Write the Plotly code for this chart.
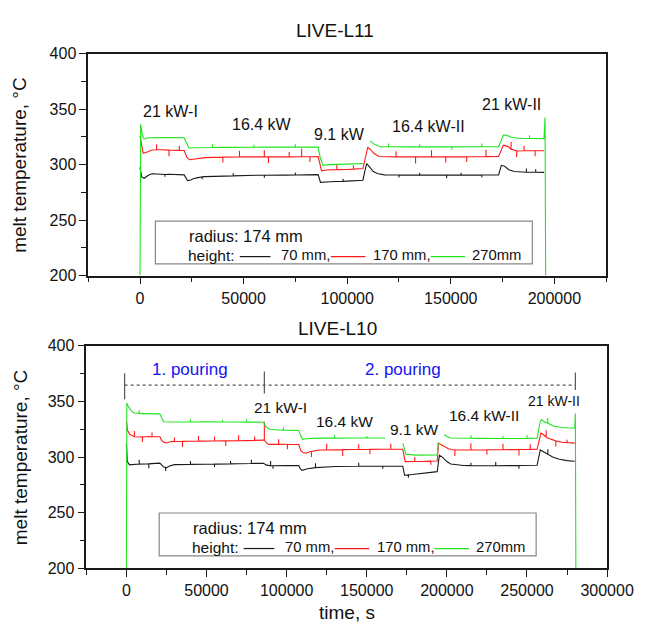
import plotly.graph_objects as go

# ---------------- data ----------------
# LIVE-L11 : (time s, temperature C)
l11_black = [(0, 297.5), (800, 289), (2000, 287.7), (4000, 290.5), (5800, 291.8), (9000, 291.5), (14000, 291.3),
             (21300, 290.8), (22500, 287), (23000, 285.7), (24500, 286.2), (26000, 287.5), (28000, 288.3),
             (31300, 289.2), (40000, 289.6), (56000, 290.4), (70000, 290.6), (86000, 291.0), (86800, 286),
             (87100, 284), (92000, 284.6), (100000, 285.2), (107600, 286), (108500, 294), (109400, 300.9),
             (111000, 297.5), (112500, 294), (114500, 292.1), (118000, 290.8), (140000, 290.6), (160000, 290.6),
             (173100, 290.8), (174400, 299.4), (176000, 298.5), (178000, 295.5), (180700, 293.9), (186000, 293.2),
             (195000, 293)]
l11_black_spikes = [(12000, 291.2, 289.2), (30000, 289, 286.8), (45000, 289.9, 292.3), (60000, 290.5, 288.3),
                    (75000, 290.7, 292.6), (98000, 285, 287.2), (125000, 290.7, 288.4), (135000, 290.6, 292.6),
                    (148000, 290.6, 287.8), (155000, 290.6, 292.8), (165000, 290.7, 288.4), (186500, 293.2, 296.5),
                    (191000, 293.1, 295.9)]

l11_red = [(0, 326), (700, 318), (1500, 310.3), (3500, 311.5), (5800, 313.2), (10000, 313.5), (15000, 313),
           (21300, 312.8), (22500, 307), (23900, 304.4), (27000, 305.3), (31300, 306.3), (50000, 307),
           (70000, 307), (86000, 307.2), (87000, 299), (87600, 294.4), (90000, 295.2), (100000, 295.7),
           (107600, 296.5), (108800, 308), (109900, 315.3), (111000, 314.2), (113000, 310), (115300, 307.3),
           (130000, 307), (150000, 307), (173100, 307.5), (174400, 314), (175400, 317.6), (177500, 316.5),
           (179500, 313.8), (181500, 312.3), (188000, 312.6), (195000, 312.5)]
l11_red_spikes = [(8000, 313.4, 318.5), (14000, 313.1, 307.5), (19000, 312.9, 317), (40000, 306.8, 302),
                  (48000, 307, 312.5), (60000, 307, 313), (62000, 307, 301.5), (72000, 307, 311.5),
                  (78000, 307.1, 314.5), (82000, 307.1, 302.5), (95000, 295.5, 300.5), (103000, 296, 299.5),
                  (123600, 307, 312), (133000, 307, 301), (140700, 307, 313), (147600, 307, 302),
                  (157700, 307.1, 302.5), (167000, 307.2, 313.5), (179100, 313.9, 320.5), (181800, 312.3, 307),
                  (185400, 312.5, 317), (190700, 312.6, 307.5)]

l11_green = [(0, 200), (300, 336.5), (1200, 326), (2000, 323), (4000, 324.3), (8000, 324.6), (14000, 324.5),
             (21300, 324.3), (22500, 319), (23600, 315), (26000, 315.3), (40000, 315.6), (60000, 315.8),
             (86000, 315.8), (87000, 306), (88300, 299.4), (91000, 300.0), (100000, 300.5), (107600, 301),
             (109000, None), (111100, 321.3), (113000, 318.5), (116000, 316.2), (130000, 316), (150000, 316),
             (173100, 316.2), (174300, 322), (175400, 326.6), (177000, 326.5), (179000, 325), (182400, 323.8),
             (190000, 323.6), (195000, 323.5), (195500, 342.4), (195800, 200)]
l11_green_spikes = [(35000, 315.5, 318.5), (55000, 315.7, 318), (75000, 315.8, 318.5), (120000, 316.1, 319),
                    (135000, 316, 318.5), (150500, 316, 313.5), (165000, 316.1, 319), (188000, 323.6, 326.5)]

# LIVE-L10
l10_black = [(0, 312), (600, 296), (1900, 293), (5000, 293.6), (12000, 293.8), (18000, 294.3), (20900, 294.6),
             (22000, 293), (23300, 291), (25000, 290.5), (27000, 292), (30000, 293.2), (50000, 293.6),
             (70000, 294), (80000, 294.3), (85700, 294.5), (87000, 293), (88900, 292.2), (100000, 292.3),
             (107600, 292.4), (108500, 289.5), (109600, 288.1), (113000, 289.5), (116600, 290.4), (130600, 291.5),
             (150000, 291.8), (172500, 291.8), (173000, 287), (173600, 283.7), (178500, 284.3), (186000, 285.6),
             (194000, 286.9), (194700, 295), (195400, 301.7), (197500, 299.5), (200000, 296), (202400, 293.8),
             (210400, 292.4), (230000, 292.2), (256300, 292.6), (257300, 300), (258300, 306.4), (260000, 305),
             (262300, 302.9), (266000, 300), (270200, 298), (275000, 296.8), (279800, 296.3)]
l10_black_spikes = [(8000, 293.7, 297.5), (14000, 293.9, 290), (24500, 290.6, 287.5), (40000, 293.4, 296.5),
                    (55000, 293.7, 291), (65000, 293.9, 296.5), (78000, 294.2, 297.5), (90000, 292.2, 296.5),
                    (91500, 292.2, 289.5), (118000, 290.5, 294.5), (145000, 291.7, 295), (160000, 291.8, 289.5),
                    (176000, 284, 281.5), (215000, 292.3, 295), (230500, 292.2, 295.5), (245000, 292.4, 289.5),
                    (263000, 302.5, 307)]

l10_red = [(0, 332), (700, 324), (2000, 320.5), (3900, 318.6), (8000, 318), (14000, 318.4), (20900, 318.2),
           (22000, 315), (23300, 313.4), (25000, 312.7), (28000, 314), (40000, 314.2), (60000, 314.5),
           (75000, 314.8), (85700, 315.2), (87500, 312.5), (88900, 311.4), (100000, 311.5), (107600, 311.3),
           (108800, 306), (110200, 304), (112000, 303.5), (115000, 305), (120600, 306.3), (140000, 306.8),
           (160000, 307), (172500, 307), (173300, 300), (174000, 295.9), (184000, 296), (194000, 296.5),
           (194800, 312.3), (196500, 311), (198400, 309.4), (201000, 307.5), (204400, 306.3), (230000, 306.5),
           (256300, 307), (257500, 316), (258700, 321.6), (260000, 320.5), (263000, 317), (266300, 315.1),
           (272000, 313.3), (279800, 312.5)]
l10_red_spikes = [(5000, 318.3, 323.5), (10000, 318.1, 313.5), (16000, 318.3, 322), (30000, 314, 317.5),
                  (35000, 314.1, 309), (45000, 314.3, 319), (55000, 314.4, 318.5), (62000, 314.5, 310),
                  (70000, 314.7, 319.5), (80000, 315, 318.5), (86100, 315.2, 331.7), (95000, 311.4, 316),
                  (100500, 311.5, 307), (115500, 305, 300), (125000, 306.4, 312), (135000, 306.7, 301),
                  (145000, 306.8, 311.5), (152000, 306.9, 302.5), (165000, 307, 312), (180000, 296, 300),
                  (190000, 296.3, 293), (205000, 306.3, 301), (215000, 306.4, 312.5), (225000, 306.5, 302),
                  (235000, 306.6, 312), (245000, 306.8, 301.5), (252000, 306.9, 311.5), (262000, 318, 324),
                  (268000, 314.5, 309.5), (275000, 313, 315.5)]

l10_green = [(0, 200), (300, 348.5), (1000, 346), (1900, 344.2), (3000, 341.5), (4900, 339.6), (10000, 339),
             (15000, 339.2), (20900, 338.8), (22000, 335), (23300, 331.7), (30000, 331.5), (50000, 331.6),
             (70000, 331.5), (85700, 331.3), (86700, 327.9), (88000, 326), (89700, 325), (95000, 324.3),
             (107600, 323.9), (108800, 319), (110200, 315.7), (112000, 316.5), (120000, 317), (140000, 317.1),
             (161500, 317.1), (167000, None), (172500, 312.3), (173500, 306), (174500, 302.6), (180000, 301.7),
             (194000, 301.9), (194600, 313), (196500, None), (198400, 320.3), (200000, 318.5), (202400, 317.1),
             (220000, 316.8), (240000, 316.7), (256300, 317), (257500, 326), (258300, 331.7), (259000, 333.6),
             (261000, 331.5), (266300, 327.9), (272000, 326.5), (279800, 325.9), (280200, 339), (280500, 200)]
l10_green_spikes = [(8000, 339.1, 342), (40000, 331.5, 334), (60000, 331.5, 333.5), (75000, 331.4, 334),
                    (98000, 324.2, 326.5), (130000, 317, 319.5), (150000, 317.1, 319), (215000, 316.9, 319.5),
                    (235000, 316.7, 319), (250000, 316.8, 319.5), (263000, 330.5, 335)]

series_names = ["70 mm", "170 mm", "270mm"]
series_colors = ["#1a1a1a", "#ff1a1a", "#1fe51f"]

y_ticks = [200, 250, 300, 350, 400]
x_ticks_l11 = [0, 50000, 100000, 150000, 200000]
x_ticks_l10 = [0, 50000, 100000, 150000, 200000, 250000, 300000]

# annotations (text, time, temperature)
labels_l11 = [("21 kW-I", 14600, 347.6), ("16.4 kW", 59000, 336), ("9.1 kW", 96500, 327.2),
              ("16.4 kW-II", 139200, 334.5), ("21 kW-II", 179300, 354.1)]
labels_l10 = [("21 kW-I", 96300, 344.2), ("16.4 kW", 136000, 331.7), ("9.1 kW", 180100, 324.5),
              ("16.4 kW-II", 222900, 337), ("21 kW-II", 267000, 350)]
pouring_labels = [("1. pouring", 39600, 379), ("2. pouring", 172700, 379)]
pouring_line_y = 364.6
pouring_marks = [(-1100, 352, 375.3), (86100, 357, 376.8), (280200, 360.2, 375.9)]

# ---------------- figure ----------------
W, H = 660, 631
def px(v): return v / W
def py(v): return 1 - v / H

FONT = "Liberation Sans"


def merge(main, spikes):
    pts = list(main)
    for t, b, p in spikes:
        pts += [(t, b), (t, p), (t, b)]
    pts.sort(key=lambda q: q[0])
    return [q[0] for q in pts], [q[1] for q in pts]


fig = go.Figure()
for (main, spk), name, col in zip([(l11_black, l11_black_spikes), (l11_red, l11_red_spikes),
                                   (l11_green, l11_green_spikes)], series_names, series_colors):
    x, y = merge(main, spk)
    fig.add_trace(go.Scatter(x=x, y=y, mode="lines", name=name, line=dict(color=col, width=1.1),
                             xaxis="x", yaxis="y", showlegend=False, connectgaps=False))
for (main, spk), name, col in zip([(l10_black, l10_black_spikes), (l10_red, l10_red_spikes),
                                   (l10_green, l10_green_spikes)], series_names, series_colors):
    x, y = merge(main, spk)
    fig.add_trace(go.Scatter(x=x, y=y, mode="lines", name=name, line=dict(color=col, width=1.1),
                             xaxis="x2", yaxis="y2", showlegend=False, connectgaps=False))

axcol = "#1a1a1a"
tickfont = dict(family=FONT, size=16, color="#111")


def xax(dom_px, rng, ticks, anchor):
    return dict(domain=[px(dom_px[0]), px(dom_px[1])], range=rng, anchor=anchor,
                tickmode="array", tickvals=ticks, ticktext=[str(t) for t in ticks],
                showgrid=False, zeroline=False, showline=True, mirror=True, linecolor=axcol, linewidth=1.5,
                ticks="outside", ticklen=7, tickwidth=1.4, tickcolor=axcol, tickfont=tickfont,
                minor=dict(ticks="outside", ticklen=5, tickwidth=1.4, tickcolor=axcol, tick0=-25000, dtick=25000))


def yax(dom_py, anchor):
    return dict(domain=[py(dom_py[1]), py(dom_py[0])], range=[200, 400], anchor=anchor,
                tickmode="array", tickvals=y_ticks, ticktext=[str(t) for t in y_ticks],
                showgrid=False, zeroline=False, showline=True, mirror=True, linecolor=axcol, linewidth=1.5,
                ticks="outside", ticklen=7, tickwidth=1.4, tickcolor=axcol, tickfont=tickfont,
                minor=dict(ticks="outside", ticklen=5, tickwidth=1.4, tickcolor=axcol, tick0=200, dtick=25))


annotations = []
shapes = []

# titles and axis labels
annotations.append(dict(text="LIVE-L11", x=px(349), y=py(23), xref="paper", yref="paper", showarrow=False,
                        font=dict(family=FONT, size=19, color="#111"), xanchor="center", yanchor="middle"))
annotations.append(dict(text="LIVE-L10", x=px(352), y=py(329), xref="paper", yref="paper", showarrow=False,
                        font=dict(family=FONT, size=19, color="#111"), xanchor="center", yanchor="middle"))
annotations.append(dict(text="time, s", x=px(362), y=py(621), xref="paper", yref="paper", showarrow=False,
                        font=dict(family=FONT, size=19, color="#111"), xanchor="center", yanchor="middle"))
for yc in (161, 461.5):
    annotations.append(dict(text="melt temperature, °C", x=px(21), y=py(yc), xref="paper", yref="paper",
                            showarrow=False, textangle=-90, font=dict(family=FONT, size=19, color="#111"),
                            xanchor="center", yanchor="middle"))

for txt, t, T in labels_l11:
    annotations.append(dict(text=txt, x=t, y=T, xref="x", yref="y", showarrow=False,
                            font=dict(family=FONT, size=16, color="#111"), xanchor="center", yanchor="middle"))
for txt, t, T in labels_l10:
    annotations.append(dict(text=txt, x=t, y=T, xref="x2", yref="y2", showarrow=False,
                            font=dict(family=FONT, size=14 if txt == "21 kW-II" else 15.5, color="#111"),
                            xanchor="center", yanchor="middle"))
for txt, t, T in pouring_labels:
    annotations.append(dict(text=txt, x=t, y=T, xref="x2", yref="y2", showarrow=False,
                            font=dict(family=FONT, size=17, color="#1414f0"), xanchor="center", yanchor="middle"))

shapes.append(dict(type="line", xref="x2", yref="y2", x0=pouring_marks[0][0], x1=pouring_marks[-1][0],
                   y0=pouring_line_y, y1=pouring_line_y, line=dict(color="#555", width=1.2, dash="dot")))
for t, y0, y1 in pouring_marks:
    shapes.append(dict(type="line", xref="x2", yref="y2", x0=t, x1=t, y0=y0, y1=y1,
                       line=dict(color="#555", width=1.2)))

# legend boxes (drawn manually, Origin style)
for dx, dy in ((0, 0), (4, 300)):
    shapes.append(dict(type="rect", xref="paper", yref="paper", x0=px(162 + dx), x1=px(555 + dx),
                       y0=py(263 + dy), y1=py(219 + dy), line=dict(color="#888", width=1.2),
                       fillcolor="rgba(255,255,255,0)"))
    annotations.append(dict(text="radius: 174 mm", x=px(195 + dx), y=py(234 + dy), xref="paper", yref="paper",
                            showarrow=False, font=dict(family=FONT, size=16.5, color="#111"),
                            xanchor="left", yanchor="middle"))
    annotations.append(dict(text="height:", x=px(194 + dx), y=py(254 + dy), xref="paper", yref="paper",
                            showarrow=False, font=dict(family=FONT, size=15.5, color="#111"),
                            xanchor="left", yanchor="middle"))
    seg = [(250, 282, 291, "70 mm,"), (345, 381, 387, "170 mm,"), (449, 485, 490, "270mm")]
    for (a, b, tx, txt), col in zip(seg, series_colors):
        shapes.append(dict(type="line", xref="paper", yref="paper", x0=px(a + dx), x1=px(b + dx),
                           y0=py(255.5 + dy), y1=py(255.5 + dy), line=dict(color=col, width=1.2)))
        annotations.append(dict(text=txt, x=px(tx + dx), y=py(254 + dy), xref="paper", yref="paper",
                                showarrow=False, font=dict(family=FONT, size=14.8, color="#111"),
                                xanchor="left", yanchor="middle"))

fig.update_layout(
    width=W, height=H, margin=dict(l=0, r=0, t=0, b=0),
    paper_bgcolor="white", plot_bgcolor="white", showlegend=False,
    xaxis=xax((92, 632), [-25000, 225000], x_ticks_l11, "y"),
    yaxis=yax((47, 275), "x"),
    xaxis2=xax((90, 633), [-25000, 300000], x_ticks_l10, "y2"),
    yaxis2=yax((347, 576), "x2"),
    annotations=annotations, shapes=shapes,
)

fig.write_html("out.html", config={"displayModeBar": False},
               post_script="document.body.style.margin='0';document.body.style.padding='0';")
